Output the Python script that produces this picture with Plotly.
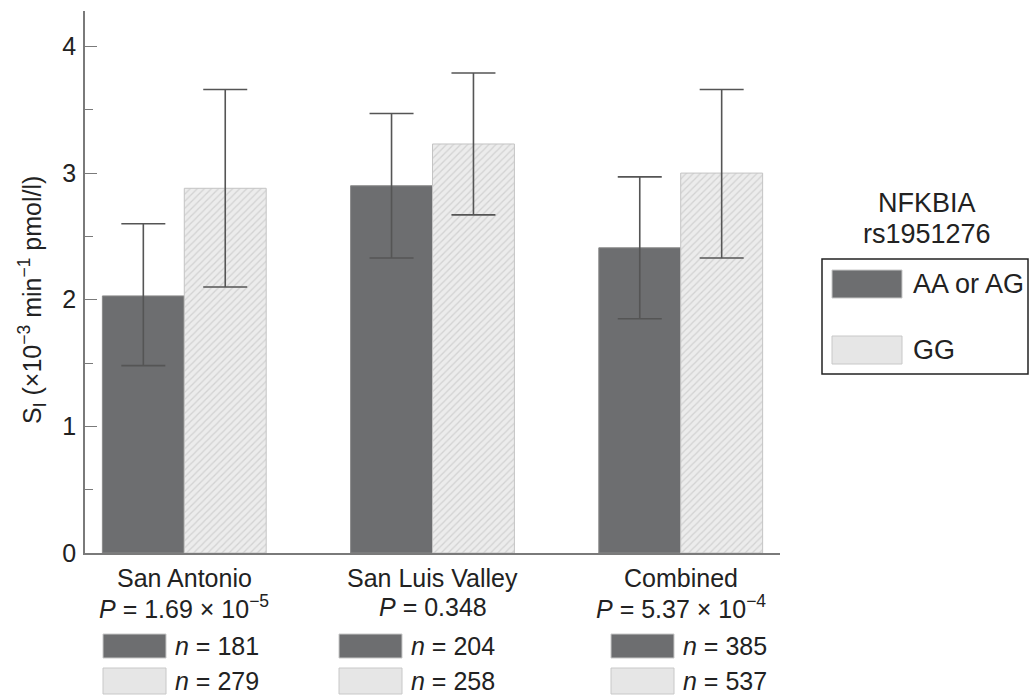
import plotly.graph_objects as go

categories = ["San Antonio", "San Luis Valley", "Combined"]
p_labels = ["<i>P</i> = 1.69 × 10<sup>−5</sup>", "<i>P</i> = 0.348", "<i>P</i> = 5.37 × 10<sup>−4</sup>"]
genotypes = ["AA or AG", "GG"]
aa_mean = [2.03, 2.90, 2.41]
aa_upper = [2.60, 3.47, 2.97]
aa_lower = [1.48, 2.33, 1.85]
gg_mean = [2.88, 3.23, 3.00]
gg_upper = [3.66, 3.79, 3.66]
gg_lower = [2.10, 2.67, 2.33]
n_aa = [181, 204, 385]
n_gg = [279, 258, 537]
yticks = [0, 1, 2, 3, 4]

W, H = 1029, 696
L, R, T, B = 85, 780, 11, 553
FONT = "Liberation Sans, Arial, Helvetica, sans-serif"
FS = 25
FS_LEG = 27
DARK = "#6d6e70"
LIGHT_BG = "#ececec"
LIGHT_FG = "#b8b8b8"
ERR = "#555555"
TXT = "#222222"


def fx(px):
    return (px - L) / (R - L)


def fy(py):
    return (B - py) / (B - T)


fig = go.Figure()
fig.add_trace(go.Bar(
    x=categories, y=aa_mean, name=genotypes[0],
    marker=dict(color=DARK, line=dict(color="#8a8a8a", width=1)),
    error_y=dict(type="data", symmetric=False,
                 array=[u - m for u, m in zip(aa_upper, aa_mean)],
                 arrayminus=[m - l for m, l in zip(aa_mean, aa_lower)],
                 color=ERR, thickness=1.6, width=22),
    showlegend=False,
))
fig.add_trace(go.Bar(
    x=categories, y=gg_mean, name=genotypes[1],
    marker=dict(color=LIGHT_BG, line=dict(color="#c4c4c4", width=1),
                pattern=dict(shape="/", fgcolor=LIGHT_FG, bgcolor=LIGHT_BG, size=5, solidity=0.25)),
    error_y=dict(type="data", symmetric=False,
                 array=[u - m for u, m in zip(gg_upper, gg_mean)],
                 arrayminus=[m - l for m, l in zip(gg_mean, gg_lower)],
                 color=ERR, thickness=1.6, width=22),
    showlegend=False,
))

annotations = []
shapes = []

# group labels under x axis
for i, (c, p) in enumerate(zip(categories, p_labels)):
    annotations.append(dict(x=i, xref="x", y=fy(578), yref="paper", text=c,
                            showarrow=False, font=dict(size=FS, color=TXT),
                            xanchor="center", yanchor="middle"))
    annotations.append(dict(x=i, xref="x", y=fy(607), yref="paper", text=p,
                            showarrow=False, font=dict(size=FS, color=TXT),
                            xanchor="center", yanchor="middle"))

# n legends under groups
sw_left = [103, 339, 611]
for i in range(len(categories)):
    x0 = sw_left[i]
    for (y0, y1, col, n) in [(634, 658, DARK, n_aa[i]), (668, 694, "#e6e6e6", n_gg[i])]:
        shapes.append(dict(type="rect", xref="paper", yref="paper",
                           x0=fx(x0), x1=fx(x0 + 63), y0=fy(y1), y1=fy(y0),
                           fillcolor=col, line=dict(color="#c8c8c8", width=1)))
        annotations.append(dict(x=fx(x0 + 70), xref="paper", y=fy((y0 + y1) / 2), yref="paper",
                                text=f"<i>n</i> = {n}", showarrow=False,
                                font=dict(size=FS, color=TXT),
                                xanchor="left", yanchor="middle"))

# right legend
annotations.append(dict(x=fx(927), xref="paper", y=fy(203), yref="paper",
                        text="NFKBIA", showarrow=False,
                        font=dict(size=FS_LEG, color=TXT),
                        xanchor="center", yanchor="middle"))
annotations.append(dict(x=fx(927), xref="paper", y=fy(234), yref="paper",
                        text="rs1951276", showarrow=False,
                        font=dict(size=FS_LEG, color=TXT),
                        xanchor="center", yanchor="middle"))
shapes.append(dict(type="rect", xref="paper", yref="paper",
                   x0=fx(822), x1=fx(1028), y0=fy(374), y1=fy(259),
                   fillcolor="rgba(0,0,0,0)", line=dict(color=TXT, width=1.5)))
for (y0, y1, col, lab) in [(270, 298, DARK, genotypes[0]), (336, 364, "#e6e6e6", genotypes[1])]:
    shapes.append(dict(type="rect", xref="paper", yref="paper",
                       x0=fx(832), x1=fx(902), y0=fy(y1), y1=fy(y0),
                       fillcolor=col, line=dict(color="#c8c8c8", width=1)))
    annotations.append(dict(x=fx(911), xref="paper", y=fy((y0 + y1) / 2), yref="paper",
                            text=lab, showarrow=False, font=dict(size=FS_LEG, color=TXT),
                            xanchor="left", yanchor="middle"))

# y axis title
annotations.append(dict(x=fx(32), xref="paper", y=fy(300), yref="paper",
                        text="S<sub>I</sub> (×10<sup>−3</sup> min<sup>−1</sup> pmol/l)",
                        textangle=-90, showarrow=False, font=dict(size=FS, color=TXT),
                        xanchor="center", yanchor="middle"))

fig.update_layout(
    width=W, height=H,
    margin=dict(l=L, r=W - R, t=T, b=H - B),
    paper_bgcolor="white", plot_bgcolor="white",
    font=dict(family=FONT, size=FS, color=TXT),
    barmode="group", bargap=0.34, bargroupgap=0,
    shapes=shapes, annotations=annotations,
    xaxis=dict(range=[-0.4, 2.4], showticklabels=False, ticks="",
               showline=True, linecolor="#7a7a7a", linewidth=1.5,
               showgrid=False, zeroline=False, fixedrange=True),
    yaxis=dict(range=[0, 4.28], tickvals=yticks, ticks="inside", ticklen=12,
               tickwidth=1.3, tickcolor="#7a7a7a",
               minor=dict(dtick=0.5, ticks="inside", ticklen=8, tickwidth=1.3, tickcolor="#7a7a7a", showgrid=False),
               showline=True, linecolor="#7a7a7a", linewidth=1.5,
               showgrid=False, zeroline=False, tickfont=dict(size=FS, color=TXT),
               ticklabelstandoff=2),
)

fig.write_html("out.html", config={"displayModeBar": False},
               post_script="document.body.style.margin='0';")
